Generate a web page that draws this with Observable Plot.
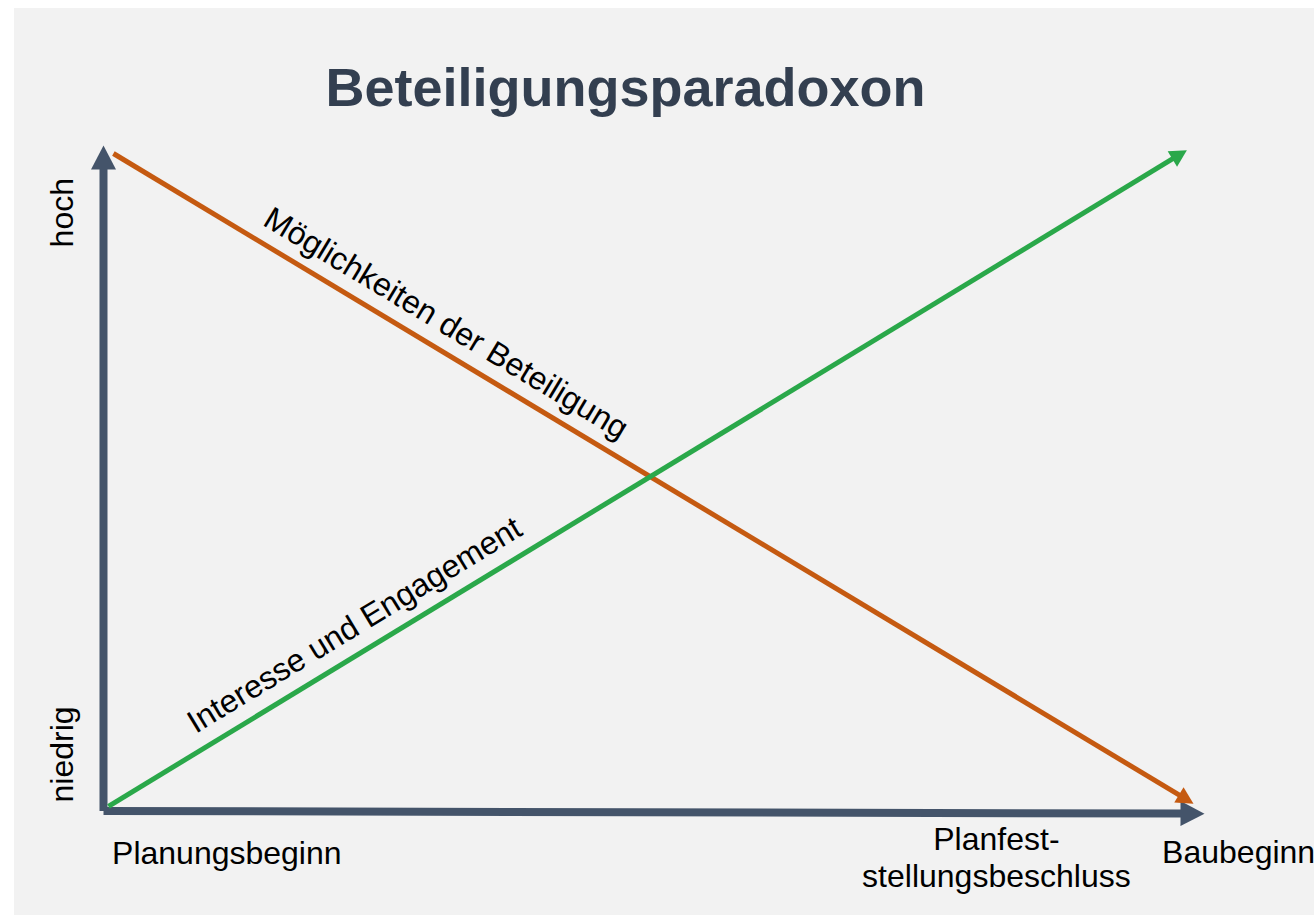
<!DOCTYPE html>
<html><head><meta charset="utf-8">
<script src="https://cdn.jsdelivr.net/npm/d3@7"></script>
<script src="https://cdn.jsdelivr.net/npm/@observablehq/plot@0.6"></script>
<style>
html,body{margin:0;padding:0;background:#fff;}
#chart{position:absolute;left:14px;top:8px;width:1300px;height:907px;background:#f2f2f2;overflow:hidden;}
</style></head><body><div id="chart"></div>
<script>
// ---- data ----
const title = "Beteiligungsparadoxon";
const seriesNames = ["Möglichkeiten der Beteiligung", "Interesse und Engagement"];
const seriesColors = ["#c55a11", "#2aa84a"];
// x: phase (0 = Planungsbeginn, 1 = Baubeginn), y: level (0 = niedrig, 1 = hoch)
const oppX = [0.009, 0.990];
const oppY = [0.988, 0.011];
const intX = [0.0045, 0.984];
const intY = [0.007, 0.993];
const seriesLabelX = [0.311, 0.228];
const seriesLabelY = [0.7325, 0.279];
const xTickLabels = ["Planungsbeginn", "Planfest-\nstellungsbeschluss", "Baubeginn"];
const xTickPos = [0.112, 0.811, 1.031];
const xTickLevel = [-0.062, -0.068, -0.061];
const yTickLabels = ["niedrig", "hoch"];
const yTickPos = [0.085, 0.899];
const yTickPhase = [-0.037, -0.037];
const axisX = [[0, 0], [1, -0.004]]; // x axis start/end
const axisY = [[0, 0], [0, 1]];      // y axis start/end

// ---- build ----
const XR = [89, 1190], YR = [802.5, 137];
const px = x => XR[0] + x * (XR[1] - XR[0]);
const py = y => YR[0] + y * (YR[1] - YR[0]);
const angleOf = d => Math.atan2(px(d.x2) - px(d.x1), -(py(d.y2) - py(d.y1))) * 180 / Math.PI;

const series = [
  {x1: oppX[0], y1: oppY[0], x2: oppX[1], y2: oppY[1], color: seriesColors[0]},
  {x1: intX[0], y1: intY[0], x2: intX[1], y2: intY[1], color: seriesColors[1]}
];
const axes = [
  {x1: axisX[0][0], y1: axisX[0][1], x2: axisX[1][0], y2: axisX[1][1]},
  {x1: axisY[0][0], y1: axisY[0][1], x2: axisY[1][0], y2: axisY[1][1]}
];
const seriesLabels = seriesNames.map((name, i) => ({
  name, x: seriesLabelX[i], y: seriesLabelY[i],
  rot: angleOf(series[i]) - 90
}));
const xTicks = xTickLabels.map((t, i) => ({t, x: xTickPos[i], y: xTickLevel[i]}));
const yTicks = yTickLabels.map((t, i) => ({t, x: yTickPhase[i], y: yTickPos[i]}));

const tri = {
  draw(context, l, r) {
    context.moveTo(0, -l);
    context.lineTo(r, 0);
    context.lineTo(-r, 0);
    context.closePath();
  }
};
const FONT = "'Liberation Sans', Arial, sans-serif";
const AXIS = "#44546a";

const chart = Plot.plot({
  width: 1300, height: 907,
  margin: 0,
  style: {background: "transparent", fontFamily: FONT, overflow: "visible"},
  x: {type: "linear", domain: [0, 1], range: XR, axis: null},
  y: {type: "linear", domain: [0, 1], range: YR, axis: null},
  marks: [
    // axes
    Plot.arrow(axes, {x1: "x1", y1: "y1", x2: "x2", y2: "y2", stroke: AXIS, strokeWidth: 8,
      headLength: 0, insetEnd: 22, strokeLinecap: "butt"}),
    Plot.vector(axes, {x: "x2", y: "y2", rotate: angleOf, length: 24, r: 12.5, anchor: "end",
      shape: tri, fill: AXIS, stroke: "none"}),
    // series
    Plot.arrow(series, {x1: "x1", y1: "y1", x2: "x2", y2: "y2", stroke: d => d.color, strokeWidth: 5,
      headLength: 0, insetEnd: 15, strokeLinecap: "butt"}),
    Plot.vector(series, {x: "x2", y: "y2", rotate: angleOf, length: 17, r: 9, anchor: "end",
      shape: tri, fill: d => d.color, stroke: "none"}),
    // series labels
    Plot.text(seriesLabels, {x: "x", y: "y", text: "name", rotate: "rot", fontSize: 32,
      fill: "#000", textAnchor: "middle", lineAnchor: "middle"}),
    // x tick labels
    Plot.text(xTicks, {x: "x", y: "y", text: "t", fontSize: 32, fill: "#000",
      textAnchor: "middle", lineAnchor: "middle", lineHeight: 1.16}),
    // y tick labels
    Plot.text(yTicks, {x: "x", y: "y", text: "t", fontSize: 32, fill: "#000", rotate: -90,
      textAnchor: "middle", lineAnchor: "middle"}),
    // title
    Plot.text([title], {frameAnchor: "top", text: d => d, dx: -39, dy: 80, fontSize: 54,
      fontWeight: "bold", fill: "#333f50", lineAnchor: "middle"})
  ]
});
chart.style.fill = null;
document.getElementById("chart").appendChild(chart);
</script>
</body></html>
